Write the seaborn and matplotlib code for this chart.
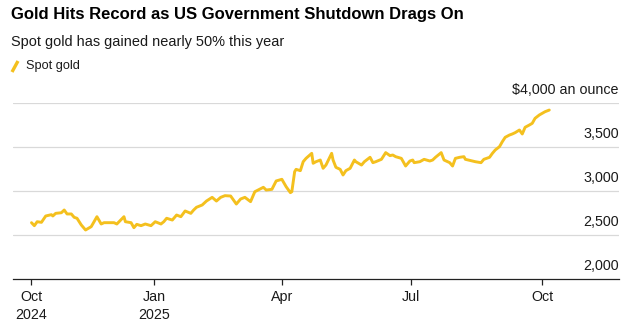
import matplotlib
matplotlib.use("Agg")
import matplotlib.pyplot as plt
import matplotlib.dates as mdates
from matplotlib.lines import Line2D
import seaborn as sns
import pandas as pd

# ---- data ----
dates = [
    "2024-10-07", "2024-10-09", "2024-10-11", "2024-10-14", "2024-10-17", "2024-10-21",
    "2024-10-22", "2024-10-24", "2024-10-28", "2024-10-30", "2024-11-01", "2024-11-04",
    "2024-11-06", "2024-11-08", "2024-11-11", "2024-11-14", "2024-11-18", "2024-11-22",
    "2024-11-25", "2024-11-27", "2024-12-04", "2024-12-06", "2024-12-11", "2024-12-12",
    "2024-12-16", "2024-12-18", "2024-12-20", "2024-12-23", "2024-12-26", "2024-12-30",
    "2025-01-02", "2025-01-06", "2025-01-08", "2025-01-10", "2025-01-14", "2025-01-17",
    "2025-01-20", "2025-01-23", "2025-01-27", "2025-01-29", "2025-01-31", "2025-02-04",
    "2025-02-07", "2025-02-11", "2025-02-14", "2025-02-17", "2025-02-20", "2025-02-24",
    "2025-02-28", "2025-03-03", "2025-03-06", "2025-03-10", "2025-03-13", "2025-03-19",
    "2025-03-21", "2025-03-25", "2025-03-28", "2025-04-01", "2025-04-04", "2025-04-07",
    "2025-04-08", "2025-04-10", "2025-04-11", "2025-04-14", "2025-04-16", "2025-04-18",
    "2025-04-22", "2025-04-23", "2025-04-25", "2025-04-28", "2025-04-30", "2025-05-02",
    "2025-05-06", "2025-05-07", "2025-05-09", "2025-05-12", "2025-05-14", "2025-05-16",
    "2025-05-19", "2025-05-22", "2025-05-23", "2025-05-27", "2025-05-29", "2025-06-02",
    "2025-06-04", "2025-06-06", "2025-06-10", "2025-06-13", "2025-06-16", "2025-06-18",
    "2025-06-20", "2025-06-24", "2025-06-27", "2025-06-30", "2025-07-02", "2025-07-03",
    "2025-07-07", "2025-07-10", "2025-07-14", "2025-07-16", "2025-07-18", "2025-07-22",
    "2025-07-24", "2025-07-28", "2025-07-30", "2025-08-01", "2025-08-04", "2025-08-07",
    "2025-08-08", "2025-08-12", "2025-08-15", "2025-08-19", "2025-08-21", "2025-08-25",
    "2025-08-27", "2025-08-29", "2025-09-01", "2025-09-03", "2025-09-05", "2025-09-08",
    "2025-09-10", "2025-09-12", "2025-09-15", "2025-09-17", "2025-09-19", "2025-09-22",
    "2025-09-24", "2025-09-26", "2025-09-29", "2025-10-01", "2025-10-03", "2025-10-06",
]
prices = [
    2640, 2606, 2651, 2644, 2716, 2731,
    2716, 2746, 2753, 2784, 2739, 2739,
    2701, 2690, 2614, 2557, 2595, 2708,
    2625, 2640, 2640, 2625, 2708, 2651,
    2640, 2583, 2621, 2606, 2625, 2606,
    2651, 2625, 2651, 2690, 2670, 2727,
    2708, 2773, 2746, 2784, 2815, 2841,
    2886, 2928, 2886, 2928, 2947, 2943,
    2852, 2909, 2928, 2879, 2992, 3042,
    3011, 3019, 3114, 3133, 3049, 2981,
    2992, 3220, 3246, 3231, 3333, 3371,
    3428, 3315, 3333, 3352, 3258, 3295,
    3428, 3352, 3269, 3246, 3182, 3231,
    3258, 3352, 3333, 3295, 3333, 3383,
    3322, 3333, 3360, 3436, 3402, 3409,
    3390, 3371, 3284, 3341, 3352, 3322,
    3333, 3360, 3341, 3352, 3383, 3436,
    3352, 3322, 3284, 3371, 3383, 3390,
    3360, 3345, 3333, 3322, 3360, 3383,
    3428, 3466, 3504, 3561, 3610, 3636,
    3648, 3663, 3693, 3648, 3724, 3750,
    3769, 3826, 3864, 3883, 3901, 3920,
]
series_name = "Spot gold"
y_ticks = [2000, 2500, 3000, 3500, 4000]
y_tick_labels = ["2,000", "2,500", "3,000", "3,500", "$4,000 an ounce"]
x_ticks = ["2024-10-07", "2025-01-01", "2025-04-01", "2025-07-01", "2025-10-01"]
x_tick_labels = ["Oct\n2024", "Jan\n2025", "Apr", "Jul", "Oct"]
title = "Gold Hits Record as US Government Shutdown Drags On"
subtitle = "Spot gold has gained nearly 50% this year"

df = pd.DataFrame({"date": pd.to_datetime(dates), "price": prices})

GOLD = "#F4C01E"
TEXT = "#1a1a1a"

sns.set_theme(style="white")
plt.rcParams["font.family"] = ["Liberation Sans", "DejaVu Sans"]

fig = plt.figure(figsize=(6.31, 3.32), dpi=100)
fig.patch.set_facecolor("white")
ax = fig.add_axes([13 / 631, 1 - 279 / 332, 606 / 631, 176 / 332])

sns.lineplot(data=df, x="date", y="price", color=GOLD, linewidth=2.1, ax=ax,
             legend=False, zorder=3)

ax.set_ylim(y_ticks[0], y_ticks[-1])
ax.set_xlim(pd.Timestamp("2024-09-24"), pd.Timestamp("2025-11-24"))

# horizontal gridlines
for v in y_ticks[1:]:
    ax.axhline(v, color="#d9d9d9", linewidth=0.9, zorder=1)
ax.set_yticks([])
for v, lab in zip(y_ticks, y_tick_labels):
    ax.annotate(lab, xy=(1.0, v), xycoords=("axes fraction", "data"),
                xytext=(0, 9.6), textcoords="offset points",
                ha="right", va="center", fontsize=10.3, color=TEXT,
                annotation_clip=False)

for s in ["top", "right", "left"]:
    ax.spines[s].set_visible(False)
ax.spines["bottom"].set_color("#222222")
ax.spines["bottom"].set_linewidth(0.9)
ax.spines["bottom"].set_zorder(4)

ax.set_xticks(pd.to_datetime(x_ticks))
ax.set_xticklabels(x_tick_labels, fontsize=10.3, color=TEXT, linespacing=1.35)
ax.tick_params(axis="x", direction="out", length=4, width=0.9, color="#222222",
               pad=4, bottom=True)
ax.set_xlabel("")
ax.set_ylabel("")
ax.set_facecolor("white")

# titles
fig.text(11 / 631, 1 - 15 / 332, title, fontsize=12.0, fontweight="bold",
         color="#000000", ha="left", va="center")
fig.text(11 / 631, 1 - 42 / 332, subtitle, fontsize=10.45, color=TEXT,
         ha="left", va="center")

# legend
fig.add_artist(Line2D([12 / 631, 18 / 631], [1 - 72 / 332, 1 - 61 / 332],
                      color=GOLD, linewidth=2.4, solid_capstyle="butt",
                      transform=fig.transFigure))
fig.text(26 / 631, 1 - 66 / 332, series_name, fontsize=9.2, color=TEXT,
         ha="left", va="center")

fig.savefig("out.png", dpi=100, facecolor="white")
